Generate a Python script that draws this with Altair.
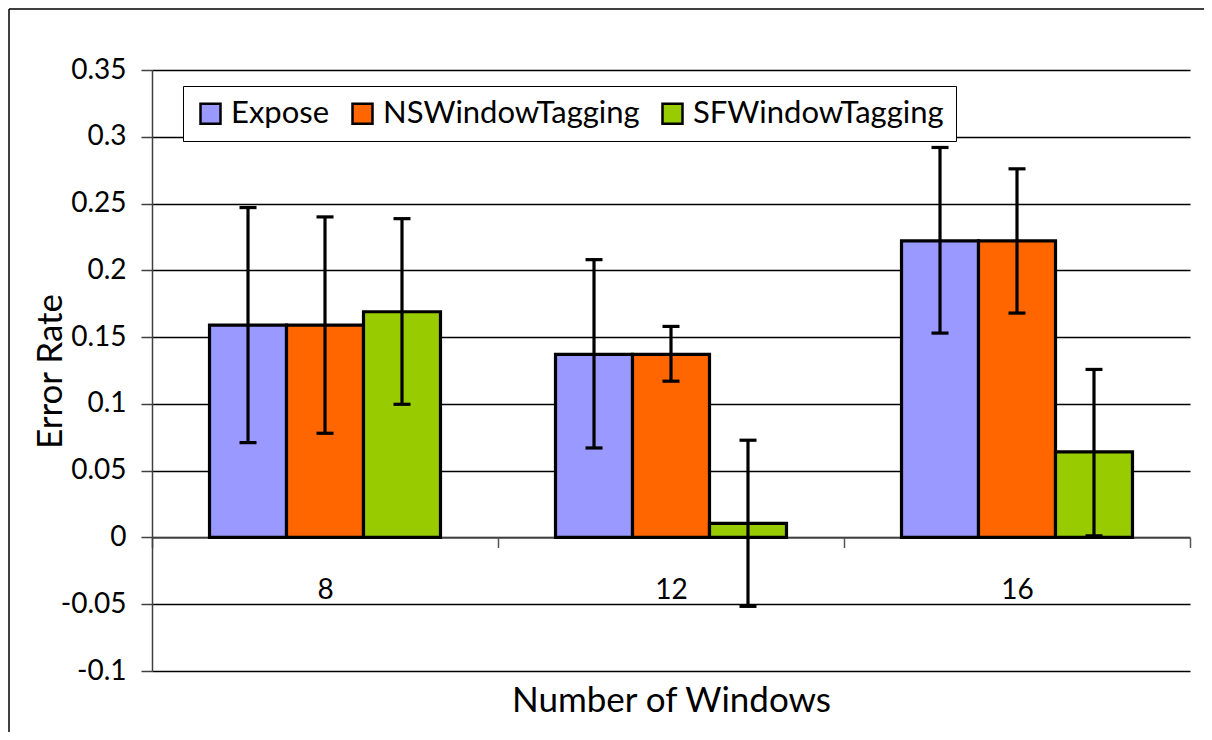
import altair as alt
import pandas as pd

# ---- data ----
windows = ["8", "12", "16"]
series = ["Expose", "NSWindowTagging", "SFWindowTagging"]
colors = ["#9999FF", "#FF6600", "#99CC00"]

expose = [0.159, 0.137, 0.222]
expose_lo = [0.071, 0.067, 0.153]
expose_hi = [0.247, 0.208, 0.292]

ns = [0.159, 0.137, 0.222]
ns_lo = [0.078, 0.117, 0.168]
ns_hi = [0.240, 0.158, 0.276]

sf = [0.169, 0.0105, 0.064]
sf_lo = [0.0997, -0.0516, 0.0012]
sf_hi = [0.2387, 0.0728, 0.1258]

y_ticks = [-0.1, -0.05, 0, 0.05, 0.1, 0.15, 0.2, 0.25, 0.3, 0.35]

rows = []
for s, vals, los, his in zip(series, [expose, ns, sf], [expose_lo, ns_lo, sf_lo], [expose_hi, ns_hi, sf_hi]):
    for w, v, lo, hi in zip(windows, vals, los, his):
        rows.append({"windows": w, "series": s, "value": v, "lo": lo, "hi": hi})
df = pd.DataFrame(rows)

# ---- layout ----
W, H = 1038, 601
PAD_L, PAD_T, PAD_R, PAD_B = 144, 62, 14, 61
ymin, ymax = y_ticks[0], y_ticks[-1]
zero_offset = -H * (0 - ymin) / (ymax - ymin)
FONT = "Lato"

x_scale = alt.Scale(paddingInner=0, paddingOuter=0)
x_enc = alt.X(
    "windows:N",
    sort=windows,
    scale=x_scale,
    axis=alt.Axis(
        title="Number of Windows",
        offset=zero_offset,
        domainColor="#555555",
        domainWidth=1.5,
        tickColor="#555555",
        tickWidth=1.5,
        tickSize=10,
        tickBand="extent",
        labelAngle=0,
        labelFont=FONT,
        labelFontSize=28,
        labelColor="black",
        labelBaseline="alphabetic",
        labelPadding=51,
        titleFont=FONT,
        titleFontSize=35,
        titleFontWeight="normal",
        titleColor="black",
        titleBaseline="alphabetic",
        titleY=174,
        grid=False,
    ),
)
xoff = alt.XOffset("series:N", sort=series, scale=alt.Scale(paddingInner=0, paddingOuter=0.747))

y_scale = alt.Scale(domain=[ymin, ymax], nice=False, zero=False)
y_axis = alt.Axis(
    title="Error Rate",
    values=y_ticks,
    labelExpr="replace(format(datum.value, '~g'), '\u2212', '-')",
    domainColor="#404040",
    domainWidth=1.5,
    tickColor="#404040",
    tickWidth=1.5,
    tickSize=11,
    grid=True,
    gridColor="black",
    gridWidth=1.3,
    labelFont=FONT,
    labelFontSize=28,
    labelColor="black",
    labelPadding=15,
    titleFont=FONT,
    titleFontSize=35,
    titleFontWeight="normal",
    titleColor="black",
    titleAngle=270,
    titleAlign="center",
    titleBaseline="middle",
    titleX=-102,
    titleY=301,
)

base = alt.Chart(df)

bars = base.mark_bar(stroke="black", strokeWidth=3.2).encode(
    x=x_enc,
    xOffset=xoff,
    y=alt.Y("value:Q", scale=y_scale, axis=y_axis),
    color=alt.Color(
        "series:N",
        sort=series,
        scale=alt.Scale(domain=series, range=colors),
        legend=alt.Legend(
            title=None,
            orient="none",
            legendX=31,
            legendY=16,
            direction="horizontal",
            fillColor="white",
            strokeColor="black",
            padding=12,
            symbolType="square",
            symbolSize=400,
            symbolStrokeColor="black",
            symbolStrokeWidth=2.5,
            symbolOpacity=1,
            labelFont=FONT,
            labelFontSize=31,
            labelColor="black",
            labelOffset=5,
            labelLimit=0,
            columnPadding=17,
        ),
    ),
)

err = base.mark_rule(color="black", strokeWidth=3.2).encode(
    x=alt.X("windows:N", sort=windows, scale=x_scale),
    xOffset=xoff,
    y=alt.Y("lo:Q", scale=y_scale),
    y2="hi:Q",
)
cap_lo = base.mark_tick(color="black", size=17, thickness=3.2, orient="horizontal", opacity=1).encode(
    x=alt.X("windows:N", sort=windows, scale=x_scale),
    xOffset=xoff,
    y=alt.Y("lo:Q", scale=y_scale),
)
cap_hi = base.mark_tick(color="black", size=17, thickness=3.2, orient="horizontal", opacity=1).encode(
    x=alt.X("windows:N", sort=windows, scale=x_scale),
    xOffset=xoff,
    y=alt.Y("hi:Q", scale=y_scale),
)

# decorative chart frame (left and top edges)
frame_df = pd.DataFrame({"k": [0]})
frame_left = alt.Chart(frame_df).mark_rule(color="black", strokeWidth=1.5).encode(
    x=alt.value(-PAD_L + 1), y=alt.value(-PAD_T + 1), y2=alt.value(H + PAD_B)
)
frame_top = alt.Chart(frame_df).mark_rule(color="black", strokeWidth=1.5).encode(
    x=alt.value(-PAD_L + 1), x2=alt.value(W + PAD_R), y=alt.value(-PAD_T + 1)
)

chart = (
    alt.layer(bars, err, cap_lo, cap_hi, frame_left, frame_top)
    .properties(
        width=W,
        height=H,
        padding={"left": PAD_L, "top": PAD_T, "right": PAD_R, "bottom": PAD_B},
        autosize=alt.AutoSizeParams(type="none"),
        background="white",
    )
    .configure_view(stroke=None)
)

chart.save("out.html", embed_options={"renderer": "svg", "actions": False})
